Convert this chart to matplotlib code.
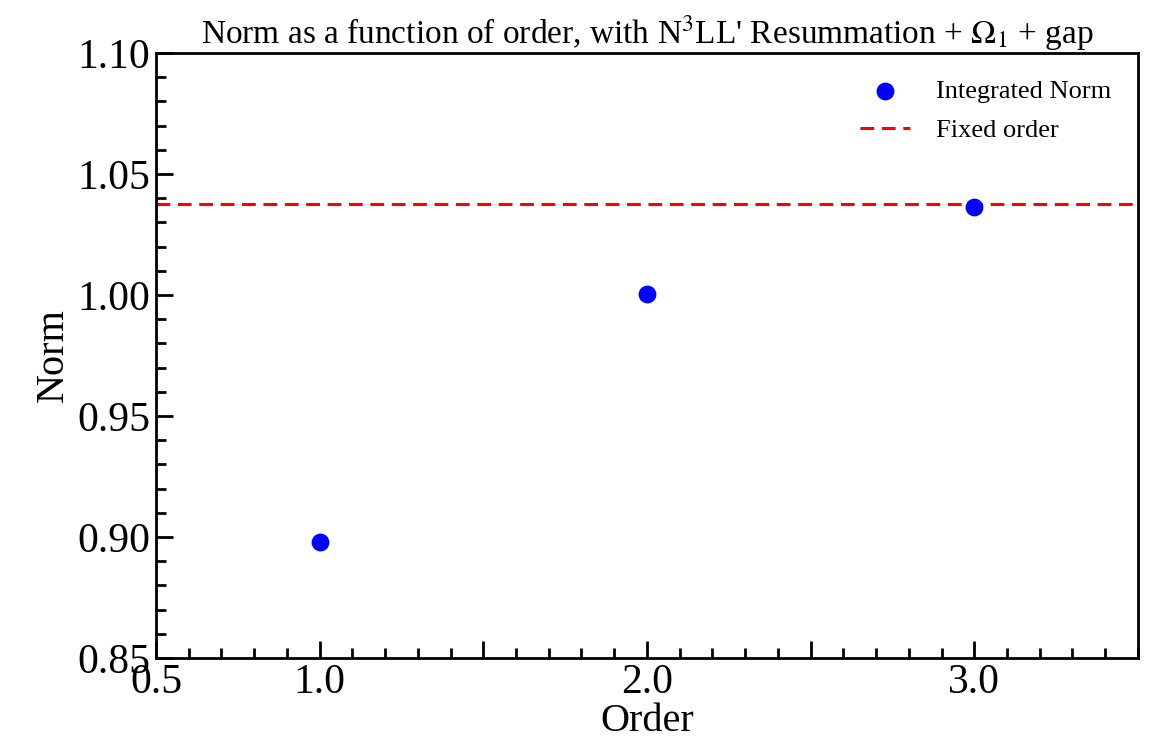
import matplotlib
matplotlib.use('Agg')
import matplotlib.pyplot as plt
from matplotlib.ticker import MultipleLocator, FixedLocator, FormatStrFormatter

plt.rcParams['font.family'] = ['Liberation Serif', 'DejaVu Serif']
plt.rcParams['mathtext.fontset'] = 'stix'

# data
orders = [1.0, 2.0, 3.0]
norms = [0.898, 1.0004, 1.0365]
fixed_order = 1.0377
xtick_pos = [0.5, 1.0, 1.5, 2.0, 2.5, 3.0]
xtick_labels = ['0.5', '1.0', '', '2.0', '', '3.0']

fig = plt.figure(figsize=(11.57, 7.42), dpi=100)
ax = fig.add_axes([0.1348, 0.1132, 0.8487, 0.8154])

ax.scatter(orders, norms, s=140, color='blue', label='Integrated Norm', zorder=3)
ax.axhline(fixed_order, color='red', linestyle='--', linewidth=2.2, dashes=(4.5, 2.5), label='Fixed order')

ax.set_xlim(0.5, 3.5)
ax.set_ylim(0.85, 1.10)

# long ticks every 0.5, labels only on 0.5, 1, 2, 3
ax.set_xticks(xtick_pos)
ax.set_xticklabels(xtick_labels)
ax.xaxis.set_minor_locator(FixedLocator([0.5 + 0.1 * i for i in range(31)]))
ax.yaxis.set_major_locator(MultipleLocator(0.05))
ax.yaxis.set_minor_locator(MultipleLocator(0.01))
ax.yaxis.set_major_formatter(FormatStrFormatter('%.2f'))

ax.tick_params(which='both', direction='in', top=False, right=False, width=2)
ax.tick_params(which='major', length=12, labelsize=30, pad=4)
ax.tick_params(which='minor', length=7)

for s in ax.spines.values():
    s.set_linewidth(2)

ax.set_xlabel('Order', fontsize=29, labelpad=1)
ax.set_ylabel('Norm', fontsize=29, labelpad=4)
ax.set_title("Norm as a function of order, with N$^3$LL' Resummation + $\\Omega_1$ + gap", fontsize=24, pad=7)

ax.legend(loc='upper right', frameon=False, fontsize=19, handlelength=1.9,
          handletextpad=1.0, labelspacing=0.6, borderaxespad=0.6)

fig.savefig('out.png', dpi=100)
